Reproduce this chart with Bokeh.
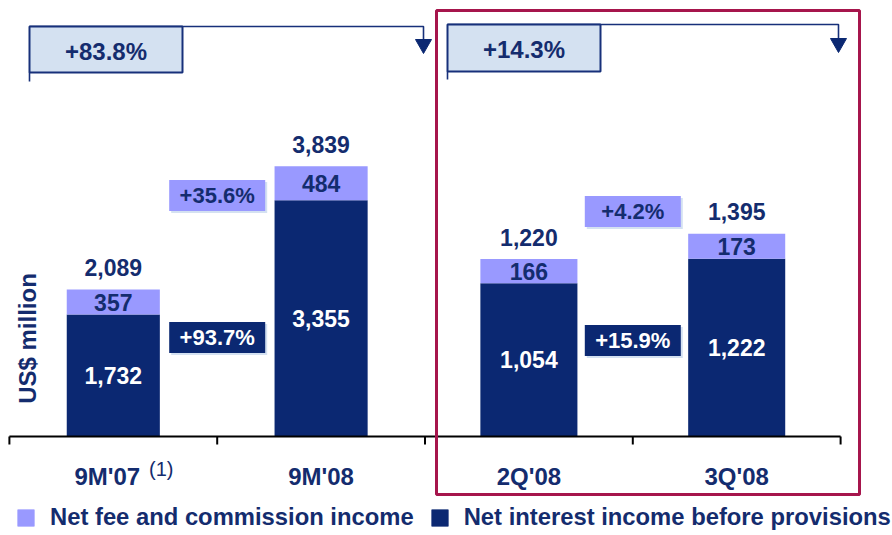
import numpy as np
from bokeh.plotting import figure
from bokeh.models import Range1d, ColumnDataSource, Legend, LegendItem
from bokeh.core.properties import value
from bokeh.embed import file_html
from bokeh.resources import INLINE

# ---------------- data ----------------
categories = ["9M'07", "9M'08", "2Q'08", "3Q'08"]
net_interest = [1732, 3355, 1054, 1222]
net_fee = [357, 484, 166, 173]
growth_fee = ["+35.6%", "+4.2%"]
growth_interest = ["+93.7%", "+15.9%"]
growth_total = ["+83.8%", "+14.3%"]
footnote = "(1)"
series_names = ["Net fee and commission income", "Net interest income before provisions"]
y_title = "US$ million"

# ---------------- layout / style ----------------
W, H = 892, 535
BASE = 436          # pixel row of the zero line (from top)
SL = 0.0704         # px per unit, left panel
SR = 0.1454         # px per unit, right panel
X0 = 112.8          # px of first category centre
UNIT = 207.8        # px per category

DARK = "#0b2872"
LIGHT = "#9999ff"
TXT = "#142c6e"
BOXFILL = "#d4e1f1"
NAVY_LINE = "#17307a"
CRIMSON = "#a6154c"
FONT = value("Liberation Sans")

p = figure(width=W, height=H, output_backend="svg", toolbar_location=None,
           x_range=Range1d(-X0 / UNIT, (W - X0) / UNIT),
           y_range=Range1d(-(H - BASE) / SL, BASE / SL),
           x_axis_location=None, y_axis_location=None,
           min_border=0, outline_line_color=None)
p.extra_y_ranges = {"right": Range1d(-(H - BASE) / SR, BASE / SR), "px": Range1d(H, 0)}
p.extra_x_ranges = {"px": Range1d(0, W)}
p.grid.visible = False

idx = list(range(len(categories)))
ni = np.array(net_interest)
nf = np.array(net_fee)
tot = ni + nf


def make_src(sl):
    return ColumnDataSource(dict(
        x=idx[sl], ni=ni[sl], top=tot[sl],
        nimid=ni[sl] / 2, nfmid=ni[sl] + nf[sl] / 2,
        ni_lbl=[f"{v:,}" for v in ni[sl]],
        nf_lbl=[f"{v:,}" for v in nf[sl]],
        tot_lbl=[f"{v:,}" for v in tot[sl]],
    ))


left = make_src(slice(0, 2))
right = make_src(slice(2, 4))

renderers = {}
for name, src, rng, bw in [("L", left, "default", 0.448), ("R", right, "right", 0.467)]:
    renderers["ni" + name] = p.vbar(x="x", bottom=0, top="ni", width=bw, source=src,
                                    fill_color=DARK, line_color=None, y_range_name=rng)
    renderers["nf" + name] = p.vbar(x="x", bottom="ni", top="top", width=bw, source=src,
                                    fill_color=LIGHT, line_color=None, y_range_name=rng)
    p.text(x="x", y="nimid", text="ni_lbl", source=src, y_range_name=rng,
           text_color="white", text_font=FONT, text_font_style="bold", text_font_size="23px",
           text_align="center", text_baseline="middle")
    p.text(x="x", y="nfmid", text="nf_lbl", source=src, y_range_name=rng,
           text_color=TXT, text_font=FONT, text_font_style="bold", text_font_size="23px",
           text_align="center", text_baseline="middle")
    p.text(x="x", y="top", text="tot_lbl", source=src, y_range_name=rng, y_offset=-22,
           text_color=TXT, text_font=FONT, text_font_style="bold", text_font_size="23px",
           text_align="center", text_baseline="middle")

# ---------------- x axis (baseline, ticks, labels) ----------------
p.segment(x0=[-0.5], x1=[len(categories) - 0.5], y0=[0], y1=[0], line_color="black", line_width=2)
bounds = [i - 0.5 for i in range(len(categories) + 1)]
p.segment(x0=bounds, x1=bounds, y0=[BASE] * len(bounds), y1=[BASE + 8] * len(bounds),
          y_range_name="px", line_color="black", line_width=2)
cat_offsets = [-6, 0, 0, 0]
p.text(x=idx, y=[476] * len(idx), text=categories, x_offset=cat_offsets, y_range_name="px",
       text_color=TXT, text_font=FONT, text_font_style="bold", text_font_size="24px",
       text_align="center", text_baseline="middle")
p.text(x=[0], y=[468], text=[footnote], x_offset=[48], y_range_name="px",
       text_color=TXT, text_font=FONT, text_font_size="20px",
       text_align="center", text_baseline="middle")

# y title
p.text(x=[27], y=[338], text=[y_title], angle=np.pi / 2, x_range_name="px", y_range_name="px",
       text_color=TXT, text_font=FONT, text_font_style="bold", text_font_size="24px",
       text_align="center", text_baseline="middle")

# ---------------- growth boxes between bars ----------------
mid_x = [0.5, 2.5]
fee_box_y = [195, 211]
int_box_y = [337, 340]
shadow_x = [m + 2 / UNIT for m in mid_x]
for ys, fill, tc, labels in [(fee_box_y, LIGHT, TXT, growth_fee), (int_box_y, DARK, "white", growth_interest)]:
    p.rect(x=shadow_x, y=[y + 2 for y in ys], width=96, height=31, width_units="screen",
           height_units="screen", y_range_name="px", fill_color=BOXFILL, line_color=None)
    p.rect(x=mid_x, y=ys, width=96, height=31, width_units="screen", height_units="screen",
           y_range_name="px", fill_color=fill, line_color=None)
    p.text(x=mid_x, y=ys, text=labels, y_range_name="px", text_color=tc, text_font=FONT,
           text_font_style="bold", text_font_size="22px", text_align="center", text_baseline="middle")

# ---------------- top period growth brackets ----------------
p.multi_line(xs=[[29, 423, 423], [447, 838, 838], [29, 29], [447, 447]],
             ys=[[26, 26, 39], [24, 24, 38], [72, 81], [71, 79]],
             x_range_name="px", y_range_name="px", line_color=NAVY_LINE, line_width=1.6)
p.patches(xs=[[415, 431, 423], [830, 846, 838]], ys=[[39, 39, 53], [38, 38, 52]],
          x_range_name="px", y_range_name="px", fill_color=DARK, line_color=DARK)
p.quad(left=[29, 447], right=[182, 600], top=[26, 24], bottom=[72, 71],
       x_range_name="px", y_range_name="px", fill_color=BOXFILL, line_color=NAVY_LINE, line_width=2)
p.text(x=[105.5, 523.5], y=[51, 49], text=growth_total, x_range_name="px", y_range_name="px",
       text_color=TXT, text_font=FONT, text_font_style="bold", text_font_size="24px",
       text_align="center", text_baseline="middle")

# crimson highlight frame
p.quad(left=[436], right=[859], top=[10], bottom=[494], x_range_name="px", y_range_name="px",
       fill_alpha=0, line_color=CRIMSON, line_width=3)

# ---------------- legend ----------------
legend = Legend(items=[
    LegendItem(label=series_names[0], renderers=[renderers["nfL"], renderers["nfR"]]),
    LegendItem(label=series_names[1], renderers=[renderers["niL"], renderers["niR"]]),
], location=(15, 4), orientation="horizontal",
    label_text_font="Liberation Sans", label_text_font_size="23.8px", label_text_font_style="bold",
    label_text_color=TXT, glyph_width=21, glyph_height=21, label_height=21, label_standoff=14,
    spacing=15, padding=0, margin=0, border_line_color=None, background_fill_alpha=0)
p.add_layout(legend)

open("out.html", "w").write(file_html(p, INLINE))
